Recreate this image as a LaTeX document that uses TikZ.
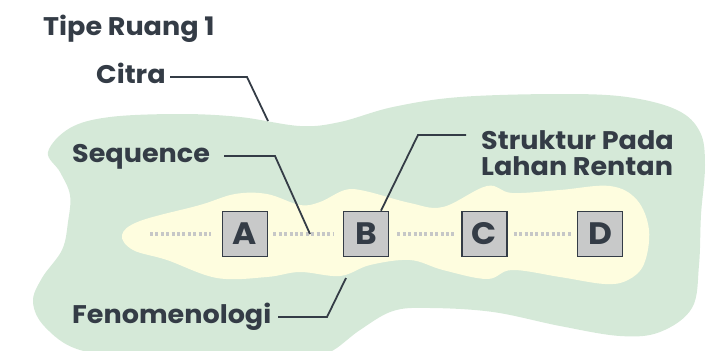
\documentclass[tikz,border=0pt]{standalone}
\usepackage{fontspec}
\setmainfont{Poppins}[FakeStretch=1.06]
\definecolor{ink}{HTML}{343C46}
\definecolor{zoneA}{HTML}{D5E9D8}
\definecolor{zoneB}{HTML}{FEFDDF}
\definecolor{boxfill}{HTML}{C8C9C9}
\definecolor{dotgray}{HTML}{C6C7C7}
\tikzset{
  label/.style={anchor=base west, inner sep=0pt, text=ink, font=\fontsize{25.5}{29}\selectfont\bfseries},
  seqbox/.style={draw=ink, line width=1.6pt, fill=boxfill, minimum width=45pt, minimum height=45pt, inner sep=0pt, text=ink, font=\fontsize{31}{32}\selectfont\bfseries},
  leader/.style={draw=ink, line width=1.8pt},
  dots/.style={draw=dotgray, line width=4pt, dash pattern=on 3pt off 2.4pt},
}
\begin{document}
\begin{tikzpicture}[x=1pt, y=-1pt]
\useasboundingbox (0,0) rectangle (716,351);
\clip (0,0) rectangle (716,351);
% outer zone
\fill[zoneA] plot[smooth cycle, tension=0.6] coordinates {
  (48,152) (70,128) (110,117) (180,114) (240,117) (300,126) (340,122)
  (393,107) (460,97) (560,94) (627,97) (677,110) (700,132) (705,165)
  (701,215) (699,265) (692,308) (660,332) (620,336) (560,326) (493,312)
  (430,308) (393,311) (360,330) (330,352) (300,358) (150,358) (80,350)
  (45,327) (33,302) (42,278) (62,250) (68,222) (70,195) (60,172)};
% inner zone
\fill[zoneB] plot[smooth cycle, tension=0.6] coordinates {
  (122,235) (140,221) (200,205) (235,194) (267,194) (300,205) (320,202)
  (345,190) (365,191) (410,203) (443,207) (487,186) (512,193) (560,190)
  (610,186) (637,200) (649,230) (644,264) (628,280) (605,284) (560,277)
  (512,270) (487,279) (443,270) (410,260) (370,265) (340,276) (300,272)
  (267,277) (217,278) (167,260) (133,250)};
% sequence boxes
\node[seqbox] (A) at (245,234) {A};
\node[seqbox] (B) at (366,234) {B};
\node[seqbox] (C) at (484.5,234) {C};
\node[seqbox] (D) at (600,234) {D};
\coordinate (start) at (150,234);
\draw[dots] (start) -- ([xshift=-11pt]A.west);
\draw[dots] ([xshift=5pt]A.east) -- ([xshift=-9pt]B.west);
\draw[dots] ([xshift=8pt]B.east) -- ([xshift=-5pt]C.west);
\draw[dots] ([xshift=6pt]C.east) -- ([xshift=-4pt]D.west);
% labels
\node[label] (title) at (43,35) {Tipe Ruang 1};
\node[label] (citra) at (96,83) {Citra};
\node[label] (seq) at (72,162) {Sequence};
\node[label] (str1) at (481,149) {Struktur Pada};
\node[label] (str2) at (481,175) {Lahan Rentan};
\node[label] (feno) at (72,323) {Fenomenologi};
% leader lines
\coordinate (citraA) at (170,77);
\coordinate (citraB) at (247,77);
\coordinate (citraC) at (268,121);
\draw[leader] (citraA) -- (citraB) -- (citraC);
\coordinate (seqA) at (224,156);
\coordinate (seqB) at (275,156);
\coordinate (seqC) at (310,234);
\draw[leader] (seqA) -- (seqB) -- (seqC);
\coordinate (strA) at (466,135);
\coordinate (strB) at (418,135);
\draw[leader] (strA) -- (strB) -- (B.north west -| 381,0);
\coordinate (fenoA) at (278,317);
\coordinate (fenoB) at (327,317);
\coordinate (fenoC) at (346,278);
\draw[leader] (fenoA) -- (fenoB) -- (fenoC);
\end{tikzpicture}
\end{document}
